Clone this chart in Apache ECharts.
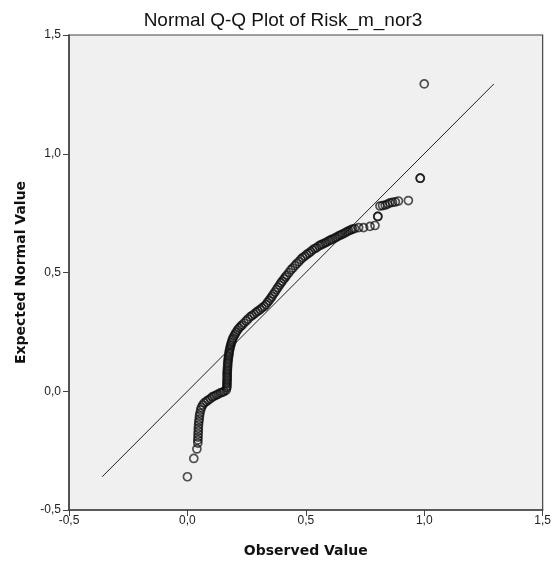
<!DOCTYPE html>
<html>
<head>
<meta charset="utf-8">
<script src="https://cdn.jsdelivr.net/npm/echarts@6/dist/echarts.min.js"></script>
<style>
html,body{margin:0;padding:0;background:#fff;}
#chart{width:554px;height:563px;}
</style>
</head>
<body>
<div id="chart"></div>
<script>
var observed = [
  0.000, 0.027, 0.040, 0.044, 0.044, 0.045, 0.045, 0.046, 0.046, 0.047,
  0.048, 0.050, 0.051, 0.053, 0.056, 0.059, 0.065, 0.071, 0.080, 0.088,
  0.097, 0.105, 0.113, 0.122, 0.130, 0.139, 0.147, 0.155, 0.164, 0.166,
  0.167, 0.167, 0.167, 0.168, 0.168, 0.168, 0.168, 0.168, 0.169, 0.169,
  0.170, 0.170, 0.171, 0.172, 0.173, 0.174, 0.176, 0.176, 0.178, 0.180,
  0.182, 0.184, 0.187, 0.189, 0.193, 0.197, 0.202, 0.206, 0.212, 0.218,
  0.225, 0.231, 0.239, 0.248, 0.256, 0.265, 0.273, 0.282, 0.290, 0.298,
  0.307, 0.315, 0.324, 0.332, 0.338, 0.345, 0.351, 0.357, 0.363, 0.370,
  0.376, 0.382, 0.389, 0.395, 0.401, 0.408, 0.414, 0.420, 0.429, 0.437,
  0.445, 0.454, 0.462, 0.471, 0.479, 0.487, 0.496, 0.504, 0.513, 0.521,
  0.529, 0.538, 0.546, 0.555, 0.563, 0.571, 0.580, 0.588, 0.597, 0.605,
  0.613, 0.622, 0.630, 0.639, 0.647, 0.655, 0.664, 0.672, 0.681, 0.689,
  0.697, 0.706, 0.723, 0.744, 0.771, 0.792, 0.804, 0.804, 0.813, 0.824,
  0.835, 0.845, 0.855, 0.866, 0.878, 0.891, 0.933, 0.983, 0.983, 1.000
];
var expected = [
  -0.360, -0.283, -0.243, -0.218, -0.205, -0.193, -0.180, -0.167, -0.155, -0.142,
  -0.129, -0.117, -0.104, -0.092, -0.079, -0.068, -0.058, -0.049, -0.043, -0.037,
  -0.031, -0.024, -0.020, -0.016, -0.012, -0.007, -0.005, -0.001, 0.005, 0.014,
  0.022, 0.031, 0.039, 0.047, 0.056, 0.064, 0.073, 0.081, 0.089, 0.098,
  0.106, 0.115, 0.123, 0.132, 0.140, 0.148, 0.157, 0.165, 0.174, 0.182,
  0.191, 0.199, 0.207, 0.216, 0.224, 0.233, 0.241, 0.249, 0.258, 0.266,
  0.273, 0.279, 0.287, 0.296, 0.304, 0.313, 0.319, 0.325, 0.332, 0.338,
  0.344, 0.351, 0.357, 0.365, 0.374, 0.382, 0.391, 0.399, 0.409, 0.418,
  0.428, 0.437, 0.447, 0.456, 0.464, 0.473, 0.481, 0.489, 0.500, 0.511,
  0.519, 0.529, 0.538, 0.546, 0.555, 0.563, 0.569, 0.576, 0.582, 0.588,
  0.595, 0.601, 0.605, 0.612, 0.616, 0.620, 0.624, 0.628, 0.633, 0.637,
  0.641, 0.645, 0.649, 0.654, 0.658, 0.662, 0.666, 0.671, 0.675, 0.679,
  0.683, 0.685, 0.689, 0.689, 0.694, 0.698, 0.736, 0.736, 0.780, 0.782,
  0.784, 0.788, 0.793, 0.795, 0.797, 0.801, 0.803, 0.897, 0.897, 1.294
];
var axisTicks = [-0.5, 0.0, 0.5, 1.0, 1.5];
var titleText = 'Normal Q-Q Plot of Risk_m_nor3';
var xName = 'Observed Value';
var yName = 'Expected Normal Value';

var points = observed.map(function (v, i) { return [v, expected[i]]; });
var eMin = Math.min.apply(null, expected);
var eMax = Math.max.apply(null, expected);
var refLine = [[eMin, eMin], [eMax, eMax]];

function fmt(v) { return v.toFixed(1).replace('.', ','); }

var font = 'Liberation Sans, Arial, sans-serif';
var boldFont = 'DejaVu Sans, Verdana, sans-serif';
var axisCommon = {
  min: axisTicks[0], max: axisTicks[axisTicks.length - 1], interval: 0.5,
  splitLine: { show: false },
  axisLine: { show: true, onZero: false, lineStyle: { color: '#444', width: 1.6 } },
  axisTick: { show: true, inside: false, length: 6, lineStyle: { color: '#444', width: 1 } },
  axisLabel: { formatter: fmt, color: '#222', fontSize: 12, fontFamily: font },
  nameLocation: 'middle',
  nameTextStyle: { color: '#111', fontSize: 14, fontWeight: 'bold', fontFamily: boldFont }
};

var chart = echarts.init(document.getElementById('chart'), null, { renderer: 'canvas' });
chart.setOption({
  animation: false,
  backgroundColor: '#ffffff',
  title: {
    text: titleText, left: 278, top: 6, textAlign: 'center',
    textStyle: { fontSize: 19, fontWeight: 'normal', color: '#111', fontFamily: font }
  },
  grid: {
    left: 69, right: 9, top: 35, bottom: 53,
    show: true, backgroundColor: '#f0f0f0', borderColor: '#444', borderWidth: 1.2
  },
  xAxis: Object.assign({}, axisCommon, { type: 'value', name: xName, nameGap: 34,
    axisLabel: Object.assign({}, axisCommon.axisLabel, { margin: 5 }) }),
  yAxis: Object.assign({}, axisCommon, { type: 'value', name: yName, nameGap: 41,
    axisLabel: Object.assign({}, axisCommon.axisLabel, { margin: 8 }) }),
  series: [
    {
      type: 'line', data: refLine, symbol: 'none', silent: true,
      lineStyle: { color: '#222', width: 1 }, z: 2
    },
    {
      type: 'scatter', data: points, symbol: 'circle', symbolSize: 8,
      itemStyle: { color: 'rgba(0,0,0,0)', borderColor: 'rgba(10,10,10,0.88)', borderWidth: 1.7 },
      z: 3
    }
  ]
});
</script>
</body>
</html>
